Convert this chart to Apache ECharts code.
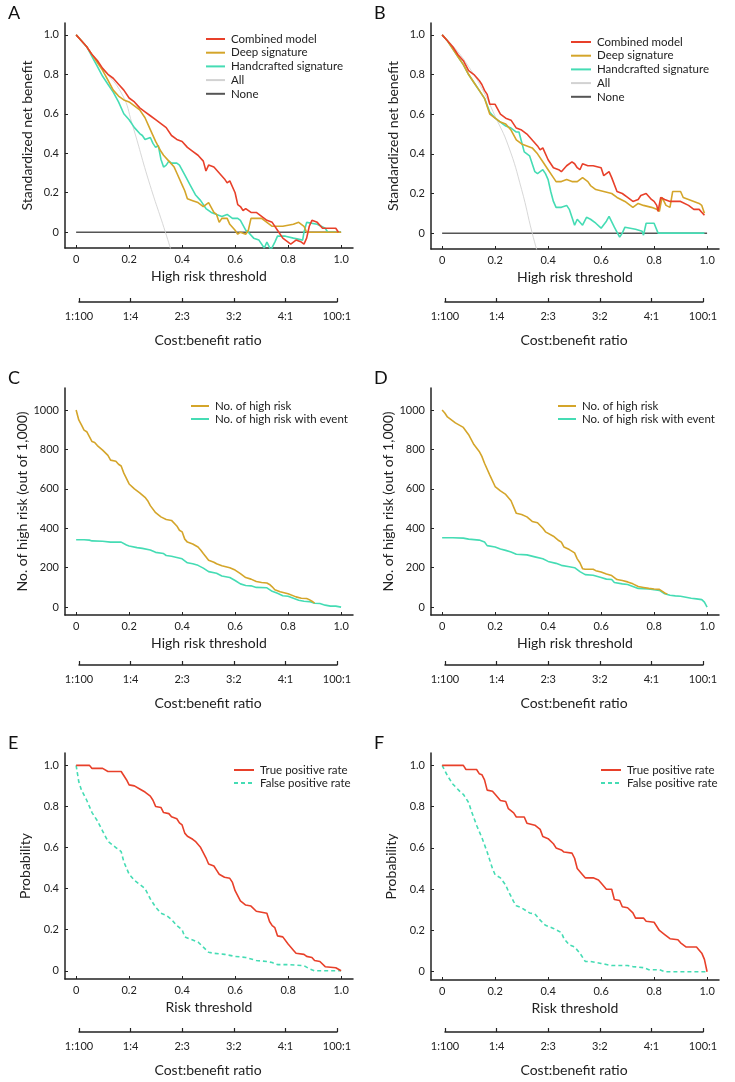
<!DOCTYPE html>
<html>
<head>
<meta charset="utf-8">
<script src="https://cdn.jsdelivr.net/npm/echarts@6/dist/echarts.min.js"></script>
<style>
html, body { margin: 0; padding: 0; background: #fff; }
#chart { width: 735px; height: 1082px; }
</style>
</head>
<body>
<div id="chart"></div>
<script>
// tick labels
var thresholdTicks = [0, 0.2, 0.4, 0.6, 0.8, 1.0];
var countTicks = [0, 200, 400, 600, 800, 1000];
var costLabels = ['1:100', '1:4', '2:3', '3:2', '4:1', '100:1'];

// A - decision curves (training)
var aCombined = [[0,1.0],[0.02,0.97],[0.04,0.94],[0.06,0.9],[0.08,0.87],[0.1,0.83],[0.12,0.8],[0.14,0.78],[0.16,0.75],[0.18,0.72],[0.2,0.68],[0.22,0.66],[0.24,0.63],[0.26,0.61],[0.28,0.59],[0.3,0.57],[0.32,0.55],[0.34,0.53],[0.36,0.49],[0.38,0.47],[0.4,0.46],[0.42,0.43],[0.44,0.41],[0.46,0.39],[0.48,0.36],[0.49,0.31],[0.5,0.34],[0.52,0.33],[0.54,0.3],[0.56,0.27],[0.57,0.25],[0.58,0.26],[0.6,0.2],[0.61,0.14],[0.62,0.13],[0.63,0.11],[0.64,0.12],[0.66,0.1],[0.68,0.1],[0.7,0.08],[0.72,0.06],[0.74,0.05],[0.76,0.01],[0.78,-0.03],[0.79,-0.04],[0.81,-0.06],[0.83,-0.04],[0.85,-0.05],[0.86,-0.06],[0.87,-0.03],[0.88,0.03],[0.89,0.06],[0.91,0.05],[0.93,0.02],[0.96,0.02],[0.98,0.02],[0.99,0.0]];
var aDeep = [[0,1.0],[0.02,0.97],[0.04,0.94],[0.06,0.9],[0.08,0.86],[0.1,0.82],[0.12,0.77],[0.14,0.72],[0.16,0.69],[0.18,0.67],[0.2,0.66],[0.22,0.64],[0.24,0.62],[0.26,0.58],[0.28,0.52],[0.3,0.46],[0.32,0.41],[0.33,0.39],[0.35,0.36],[0.37,0.33],[0.38,0.3],[0.4,0.24],[0.41,0.21],[0.42,0.17],[0.44,0.16],[0.46,0.15],[0.48,0.13],[0.49,0.14],[0.5,0.15],[0.52,0.1],[0.53,0.09],[0.54,0.05],[0.55,0.07],[0.57,0.07],[0.58,0.04],[0.6,0.01],[0.61,-0.01],[0.62,0.0],[0.64,-0.01],[0.65,0.01],[0.66,0.07],[0.7,0.07],[0.72,0.05],[0.74,0.03],[0.78,0.03],[0.82,0.04],[0.84,0.05],[0.86,0.03],[0.87,0.0],[1.0,0.0]];
var aHand = [[0,1.0],[0.02,0.97],[0.04,0.94],[0.06,0.89],[0.08,0.84],[0.1,0.79],[0.12,0.75],[0.14,0.71],[0.16,0.66],[0.18,0.6],[0.2,0.57],[0.22,0.53],[0.24,0.5],[0.25,0.49],[0.26,0.47],[0.28,0.48],[0.29,0.45],[0.3,0.43],[0.31,0.44],[0.32,0.37],[0.33,0.33],[0.34,0.34],[0.35,0.36],[0.36,0.35],[0.38,0.35],[0.39,0.34],[0.41,0.29],[0.43,0.24],[0.45,0.19],[0.47,0.16],[0.49,0.12],[0.51,0.1],[0.53,0.09],[0.55,0.08],[0.57,0.09],[0.59,0.07],[0.61,0.07],[0.62,0.06],[0.64,0.01],[0.65,0.0],[0.67,-0.03],[0.69,-0.04],[0.71,-0.08],[0.72,-0.05],[0.735,-0.09],[0.75,-0.05],[0.76,-0.02],[0.79,-0.02],[0.82,-0.03],[0.855,-0.04],[0.86,0.0],[0.87,0.05],[0.91,0.04],[0.94,0.02],[0.95,0.0],[1.0,0.0]];
var aAll = [[0,1.0],[0.05,0.92],[0.1,0.83],[0.173,0.7],[0.211,0.55],[0.274,0.26],[0.337,0.0],[0.36,-0.1]];
var aNone = [[0,0],[1.0,0]];

// B - decision curves (validation)
var bCombined = [[0,1.0],[0.02,0.97],[0.04,0.94],[0.06,0.9],[0.08,0.87],[0.1,0.82],[0.12,0.8],[0.14,0.77],[0.15,0.75],[0.16,0.72],[0.17,0.7],[0.18,0.65],[0.2,0.65],[0.22,0.6],[0.24,0.58],[0.26,0.57],[0.28,0.53],[0.3,0.52],[0.32,0.5],[0.34,0.47],[0.36,0.44],[0.37,0.42],[0.38,0.43],[0.4,0.37],[0.42,0.33],[0.44,0.32],[0.45,0.31],[0.47,0.34],[0.49,0.36],[0.5,0.35],[0.51,0.33],[0.52,0.32],[0.53,0.35],[0.55,0.34],[0.57,0.34],[0.6,0.33],[0.61,0.29],[0.63,0.31],[0.64,0.28],[0.66,0.21],[0.68,0.2],[0.7,0.18],[0.72,0.16],[0.74,0.17],[0.75,0.19],[0.77,0.2],[0.79,0.17],[0.8,0.16],[0.81,0.14],[0.815,0.11],[0.825,0.18],[0.84,0.17],[0.86,0.16],[0.9,0.16],[0.93,0.14],[0.95,0.12],[0.97,0.12],[0.99,0.09]];
var bDeep = [[0,1.0],[0.02,0.97],[0.04,0.93],[0.06,0.89],[0.08,0.85],[0.1,0.8],[0.12,0.76],[0.14,0.72],[0.16,0.68],[0.18,0.6],[0.2,0.58],[0.22,0.56],[0.24,0.55],[0.26,0.52],[0.28,0.47],[0.3,0.45],[0.32,0.44],[0.34,0.43],[0.36,0.4],[0.38,0.36],[0.4,0.32],[0.42,0.28],[0.43,0.26],[0.45,0.26],[0.47,0.27],[0.49,0.26],[0.51,0.26],[0.53,0.28],[0.55,0.26],[0.56,0.24],[0.58,0.22],[0.61,0.21],[0.64,0.2],[0.66,0.18],[0.69,0.16],[0.71,0.14],[0.72,0.13],[0.74,0.15],[0.76,0.14],[0.79,0.13],[0.81,0.12],[0.82,0.11],[0.83,0.18],[0.845,0.14],[0.86,0.13],[0.87,0.21],[0.9,0.21],[0.91,0.18],[0.93,0.17],[0.95,0.16],[0.97,0.15],[0.98,0.14],[0.99,0.1]];
var bHand = [[0,1.0],[0.02,0.97],[0.04,0.93],[0.06,0.89],[0.08,0.85],[0.1,0.8],[0.12,0.76],[0.14,0.72],[0.16,0.68],[0.18,0.61],[0.2,0.58],[0.22,0.56],[0.24,0.54],[0.26,0.53],[0.28,0.51],[0.29,0.51],[0.3,0.46],[0.31,0.41],[0.33,0.39],[0.35,0.31],[0.36,0.3],[0.37,0.31],[0.38,0.32],[0.39,0.3],[0.4,0.27],[0.41,0.21],[0.42,0.16],[0.43,0.13],[0.45,0.13],[0.47,0.14],[0.48,0.12],[0.49,0.08],[0.5,0.04],[0.51,0.07],[0.53,0.04],[0.545,0.08],[0.56,0.07],[0.58,0.05],[0.6,0.025],[0.62,0.06],[0.63,0.085],[0.65,0.03],[0.67,-0.02],[0.68,0.0],[0.69,0.03],[0.73,0.02],[0.755,0.01],[0.76,-0.01],[0.77,0.05],[0.8,0.05],[0.815,0.0],[0.99,0.0]];
var bAll = [[0,1.0],[0.05,0.93],[0.1,0.84],[0.15,0.73],[0.2,0.59],[0.25,0.44],[0.3,0.22],[0.34,0.0],[0.365,-0.12]];
var bNone = [[0,0],[1.0,0]];

// C - clinical impact (training)
var cHigh = [[0,1000],[0.01,950],[0.02,925],[0.03,898],[0.04,890],[0.05,865],[0.06,840],[0.07,835],[0.08,820],[0.1,797],[0.12,770],[0.13,746],[0.15,740],[0.16,725],[0.17,716],[0.18,680],[0.2,625],[0.22,600],[0.24,580],[0.26,557],[0.27,540],[0.28,515],[0.3,479],[0.32,458],[0.34,445],[0.36,440],[0.38,412],[0.39,390],[0.4,382],[0.41,345],[0.42,330],[0.44,320],[0.46,305],[0.47,290],[0.48,272],[0.5,238],[0.52,228],[0.53,220],[0.55,210],[0.58,200],[0.6,188],[0.62,170],[0.64,150],[0.66,142],[0.68,130],[0.7,125],[0.72,122],[0.73,115],[0.74,103],[0.75,88],[0.77,78],[0.8,68],[0.83,52],[0.85,45],[0.87,44],[0.88,38],[0.89,30],[0.9,20]];
var cEvent = [[0,342],[0.03,342],[0.05,340],[0.06,336],[0.1,334],[0.13,330],[0.17,330],[0.19,315],[0.2,310],[0.23,302],[0.25,298],[0.28,290],[0.3,278],[0.33,272],[0.34,262],[0.36,258],[0.38,252],[0.4,245],[0.42,225],[0.44,220],[0.46,212],[0.48,198],[0.5,180],[0.53,172],[0.55,158],[0.58,150],[0.6,135],[0.62,118],[0.64,110],[0.66,108],[0.68,100],[0.72,98],[0.74,80],[0.76,70],[0.78,58],[0.8,55],[0.82,45],[0.84,35],[0.86,30],[0.88,28],[0.9,20],[0.92,18],[0.94,10],[0.96,5],[0.98,5],[1.0,0]];

// D - clinical impact (validation)
var dHigh = [[0,1000],[0.01,985],[0.02,965],[0.04,945],[0.05,935],[0.07,920],[0.08,912],[0.1,875],[0.12,825],[0.14,790],[0.15,765],[0.16,730],[0.18,670],[0.2,612],[0.22,590],[0.24,572],[0.26,540],[0.28,476],[0.3,470],[0.32,458],[0.34,435],[0.36,428],[0.38,400],[0.39,382],[0.42,360],[0.44,338],[0.45,330],[0.46,305],[0.48,292],[0.5,275],[0.51,245],[0.52,225],[0.53,195],[0.54,192],[0.57,192],[0.58,185],[0.6,178],[0.62,168],[0.64,160],[0.66,140],[0.68,135],[0.7,128],[0.72,118],[0.74,105],[0.76,100],[0.78,95],[0.8,92],[0.82,90],[0.84,72],[0.85,66]];
var dEvent = [[0,352],[0.04,352],[0.08,350],[0.1,345],[0.14,340],[0.16,330],[0.17,312],[0.2,305],[0.22,295],[0.24,288],[0.26,280],[0.28,268],[0.32,265],[0.35,255],[0.38,245],[0.4,232],[0.43,222],[0.45,212],[0.48,205],[0.5,200],[0.52,180],[0.54,165],[0.57,162],[0.6,150],[0.62,142],[0.64,140],[0.65,125],[0.68,118],[0.7,115],[0.72,105],[0.74,95],[0.78,92],[0.8,88],[0.82,85],[0.84,68],[0.86,60],[0.88,57],[0.9,55],[0.92,50],[0.94,45],[0.96,42],[0.98,38],[0.99,25],[1.0,0]];

// E - TPR / FPR (training)
var eTpr = [[0,1.0],[0.05,1.0],[0.06,0.985],[0.1,0.985],[0.12,0.97],[0.17,0.97],[0.19,0.93],[0.2,0.905],[0.22,0.9],[0.24,0.885],[0.26,0.87],[0.28,0.85],[0.29,0.83],[0.3,0.8],[0.32,0.795],[0.33,0.77],[0.35,0.765],[0.36,0.75],[0.38,0.74],[0.39,0.72],[0.4,0.71],[0.41,0.67],[0.42,0.655],[0.44,0.64],[0.45,0.63],[0.47,0.6],[0.49,0.55],[0.5,0.52],[0.52,0.51],[0.53,0.49],[0.54,0.47],[0.56,0.455],[0.58,0.45],[0.59,0.43],[0.6,0.39],[0.62,0.34],[0.64,0.32],[0.66,0.315],[0.68,0.29],[0.7,0.285],[0.72,0.28],[0.73,0.24],[0.74,0.22],[0.75,0.21],[0.76,0.17],[0.78,0.165],[0.8,0.13],[0.82,0.1],[0.83,0.085],[0.86,0.08],[0.87,0.07],[0.89,0.065],[0.9,0.05],[0.92,0.045],[0.94,0.02],[0.98,0.015],[1.0,0.0]];
var eFpr = [[0,1.0],[0.01,0.92],[0.02,0.88],[0.04,0.83],[0.06,0.77],[0.08,0.73],[0.1,0.68],[0.12,0.63],[0.15,0.6],[0.17,0.58],[0.18,0.53],[0.2,0.47],[0.22,0.44],[0.24,0.42],[0.26,0.4],[0.28,0.35],[0.3,0.31],[0.32,0.28],[0.34,0.27],[0.36,0.25],[0.38,0.22],[0.4,0.2],[0.41,0.165],[0.44,0.15],[0.46,0.14],[0.48,0.115],[0.5,0.09],[0.52,0.085],[0.56,0.08],[0.58,0.075],[0.6,0.07],[0.64,0.065],[0.68,0.05],[0.72,0.045],[0.74,0.04],[0.76,0.03],[0.8,0.03],[0.86,0.025],[0.88,0.01],[0.9,0.0],[1.0,0.0]];

// F - TPR / FPR (validation)
var fTpr = [[0,1.0],[0.08,1.0],[0.09,0.98],[0.13,0.98],[0.14,0.96],[0.15,0.955],[0.16,0.93],[0.17,0.88],[0.19,0.875],[0.2,0.86],[0.22,0.83],[0.24,0.825],[0.25,0.79],[0.27,0.77],[0.28,0.75],[0.31,0.75],[0.32,0.72],[0.35,0.71],[0.37,0.69],[0.38,0.655],[0.4,0.645],[0.42,0.62],[0.43,0.6],[0.45,0.59],[0.46,0.58],[0.49,0.575],[0.5,0.55],[0.51,0.5],[0.53,0.47],[0.54,0.455],[0.57,0.455],[0.59,0.445],[0.6,0.43],[0.62,0.4],[0.64,0.4],[0.65,0.35],[0.67,0.345],[0.68,0.315],[0.7,0.31],[0.72,0.285],[0.73,0.26],[0.76,0.26],[0.77,0.245],[0.8,0.24],[0.82,0.2],[0.84,0.18],[0.85,0.17],[0.86,0.16],[0.89,0.155],[0.9,0.14],[0.92,0.12],[0.96,0.12],[0.98,0.09],[0.99,0.06],[1.0,0.0]];
var fFpr = [[0,1.0],[0.02,0.95],[0.04,0.91],[0.07,0.87],[0.08,0.86],[0.1,0.82],[0.11,0.78],[0.13,0.71],[0.15,0.65],[0.17,0.58],[0.19,0.5],[0.2,0.47],[0.22,0.455],[0.24,0.42],[0.25,0.39],[0.27,0.34],[0.28,0.32],[0.3,0.31],[0.33,0.285],[0.35,0.28],[0.37,0.25],[0.39,0.225],[0.42,0.21],[0.45,0.19],[0.46,0.16],[0.48,0.13],[0.5,0.12],[0.52,0.09],[0.54,0.05],[0.56,0.05],[0.6,0.04],[0.62,0.035],[0.64,0.03],[0.7,0.03],[0.72,0.025],[0.76,0.02],[0.78,0.01],[0.82,0.01],[0.84,0.0],[1.0,0.0]];

var RED = '#e8402a', GOLD = '#d4a52a', TEAL = '#45dcb4', GREY = '#d2d2d2', DARK = '#555555';
var FONT = 'Lato, "Open Sans", sans-serif';
var INK = '#222';

// panel layout: main plot box and cost:benefit strip
var panels = [
  {letter: 'A', left: 65,  top: 23,  h: 225, cLeft: 79,  cTop: 302},
  {letter: 'B', left: 431, top: 23,  h: 226, cLeft: 445, cTop: 302},
  {letter: 'C', left: 65,  top: 388, h: 227, cLeft: 79,  cTop: 665},
  {letter: 'D', left: 431, top: 388, h: 227, cLeft: 445, cTop: 665},
  {letter: 'E', left: 65,  top: 753, h: 226, cLeft: 79,  cTop: 1032},
  {letter: 'F', left: 431, top: 753, h: 227, cLeft: 445, cTop: 1032}
];

function fmtDec(v) { return v === 0 ? '0' : v.toFixed(1); }

var grids = [], xAxes = [], yAxes = [], titles = [];
panels.forEach(function (p, i) {
  grids.push({left: p.left, top: p.top, width: 288, height: p.h});
  titles.push({text: p.letter, left: p.left - 57, top: p.top - 19, padding: 0,
    textStyle: {fontSize: 18, fontWeight: 'normal', color: '#111', fontFamily: FONT}});
  var xName = i < 4 ? 'High risk threshold' : 'Risk threshold';
  xAxes.push({
    type: 'value', gridIndex: i, min: -0.042, max: 1.045,
    name: xName, nameLocation: 'middle', nameGap: 21,
    nameTextStyle: {fontSize: 14, color: INK, fontFamily: FONT},
    axisLine: {onZero: false, lineStyle: {color: INK, width: 1.5}},
    axisTick: {show: true, inside: true, length: 3, customValues: thresholdTicks, lineStyle: {color: INK}},
    axisLabel: {customValues: thresholdTicks, formatter: fmtDec, fontSize: 11, color: INK, margin: 6, fontFamily: FONT},
    splitLine: {show: false}
  });
  var y;
  if (i < 2) {
    y = {min: -0.08, max: 1.06, name: 'Standardized net benefit', nameGap: 31, ticks: thresholdTicks, fmt: fmtDec};
  } else if (i < 4) {
    y = {min: -40, max: 1112, name: 'No. of high risk (out of 1,000)', nameGap: 33, ticks: countTicks, fmt: function (v) { return String(v); }};
  } else {
    y = {min: -0.04, max: 1.06, name: 'Probability', nameGap: 33, ticks: thresholdTicks, fmt: fmtDec};
  }
  yAxes.push({
    type: 'value', gridIndex: i, min: y.min, max: y.max,
    name: y.name, nameLocation: 'middle', nameGap: y.nameGap,
    nameTextStyle: {fontSize: 14, color: INK, fontFamily: FONT},
    axisLine: {show: true, onZero: false, lineStyle: {color: INK, width: 1.5}},
    axisTick: {show: true, inside: true, length: 3, customValues: y.ticks, lineStyle: {color: INK}},
    axisLabel: {customValues: y.ticks, formatter: y.fmt, fontSize: 11, color: INK, margin: 6, fontFamily: FONT},
    splitLine: {show: false}
  });
});
panels.forEach(function (p, i) {
  grids.push({left: p.cLeft, top: p.cTop - 10, width: 258, height: 10});
  xAxes.push({
    type: 'value', gridIndex: 6 + i, min: 0, max: 5, interval: 1,
    name: 'Cost:benefit ratio', nameLocation: 'middle', nameGap: 31,
    nameTextStyle: {fontSize: 14, color: INK, fontFamily: FONT},
    axisLine: {onZero: false, lineStyle: {color: INK, width: 1.5}},
    axisTick: {show: true, inside: true, length: 4, lineStyle: {color: INK, width: 1.2}},
    axisLabel: {formatter: function (v) { return costLabels[Math.round(v)]; }, fontSize: 11, color: INK, margin: 9, fontFamily: FONT, showMinLabel: true, showMaxLabel: true},
    splitLine: {show: false}
  });
  yAxes.push({type: 'value', gridIndex: 6 + i, min: 0, max: 1, show: false});
});

function line(name, idx, data, color, opts) {
  opts = opts || {};
  return {
    name: name, type: 'line', xAxisIndex: idx, yAxisIndex: idx, data: data,
    symbol: 'none', smooth: opts.smooth || false,
    lineStyle: {color: color, width: opts.width || 1.6, type: opts.type || 'solid'},
    itemStyle: {color: color}, z: opts.z || 2
  };
}

var series = [
  line('None', 0, aNone, DARK, {width: 1.5}),
  line('All', 0, aAll, GREY, {width: 0.9, smooth: true}),
  line('Handcrafted signature', 0, aHand, TEAL),
  line('Deep signature', 0, aDeep, GOLD),
  line('Combined model', 0, aCombined, RED),
  line('None', 1, bNone, DARK, {width: 1.5}),
  line('All', 1, bAll, GREY, {width: 0.9, smooth: true}),
  line('Handcrafted signature', 1, bHand, TEAL),
  line('Deep signature', 1, bDeep, GOLD),
  line('Combined model', 1, bCombined, RED),
  line('No. of high risk with event', 2, cEvent, TEAL),
  line('No. of high risk', 2, cHigh, GOLD),
  line('No. of high risk with event', 3, dEvent, TEAL),
  line('No. of high risk', 3, dHigh, GOLD),
  line('False positive rate', 4, eFpr, TEAL, {type: [4, 3]}),
  line('True positive rate', 4, eTpr, RED),
  line('False positive rate', 5, fFpr, TEAL, {type: [4, 3]}),
  line('True positive rate', 5, fTpr, RED)
];

var dcaNames = ['Combined model', 'Deep signature', 'Handcrafted signature', 'All', 'None'];
var impactNames = ['No. of high risk', 'No. of high risk with event'];
var rateNames = ['True positive rate', 'False positive rate'];
function legendAt(left, top, w, gap, names) {
  return {
    left: left, top: top, orient: 'vertical', padding: 0,
    itemWidth: w, itemHeight: 12, itemGap: gap,
    itemStyle: {opacity: 0},
    selectedMode: false, data: names,
    textStyle: {fontSize: 11.5, color: INK, fontFamily: FONT, padding: [0, 0, 0, 1]}
  };
}

var myChart = echarts.init(document.getElementById('chart'));
myChart.setOption({
  animation: false,
  backgroundColor: '#fff',
  title: titles,
  grid: grids,
  xAxis: xAxes,
  yAxis: yAxes,
  legend: [
    legendAt(205, 33, 19, 1.7, dcaNames),
    legendAt(570, 36, 20, 1.7, dcaNames),
    legendAt(190, 400, 18, 1, impactNames),
    legendAt(557, 400, 18, 1, impactNames),
    legendAt(233, 764, 20, 1, rateNames),
    legendAt(600, 764, 20, 1, rateNames)
  ],
  series: series
});
</script>
</body>
</html>
